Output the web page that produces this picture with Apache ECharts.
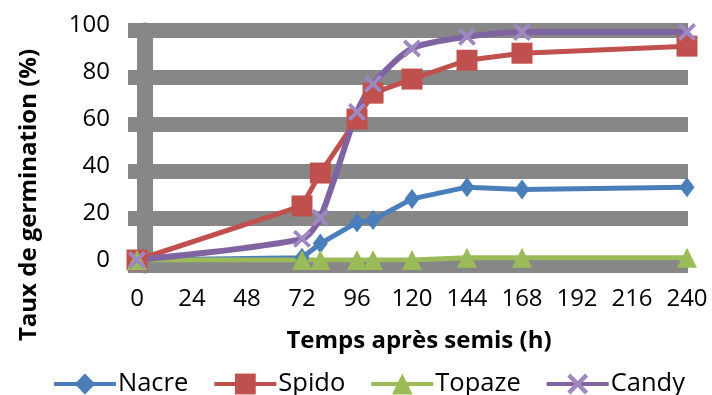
<!DOCTYPE html>
<html><head><meta charset="utf-8">
<script src="https://cdn.jsdelivr.net/npm/echarts@6/dist/echarts.min.js"></script>
<style>html,body{margin:0;padding:0;background:#fff}#c{width:712px;height:395px}</style>
</head><body><div id="c"></div>
<script>
const times = [0, 72, 80, 96, 103, 120, 144, 168, 240];
const nacre = [0, 1, 7, 16, 17, 26, 31, 30, 31];
const spido = [0, 23, 37, 60, 71, 77, 85, 88, 91];
const topaze = [0, 0, 0, 0, 0, 0, 1, 1, 1];
const candy = [0, 9, 18, 63, 75, 90, 95, 97, 97];
const seriesNames = ['Nacre', 'Spido', 'Topaze', 'Candy'];
const xTicks = [0, 24, 48, 72, 96, 120, 144, 168, 192, 216, 240];
const yTicks = [0, 20, 40, 60, 80, 100];
const xTitle = 'Temps après semis (h)';
const yTitle = 'Taux de germination (%)';

const FONT = '"Open Sans", sans-serif';
const pts = arr => times.map((t, i) => [t, arr[i]]);
const xPath = 'path://M0,3 L3,0 L10,7 L17,0 L20,3 L13,10 L20,17 L17,20 L10,13 L3,20 L0,17 L7,10 Z';

const chart = echarts.init(document.getElementById('c'), null, {renderer: 'canvas'});
chart.setOption({
  animation: false,
  backgroundColor: '#fff',
  grid: [
    {left: 137, top: 25, width: 550, height: 235},
    {left: 128, top: 30.5, width: 560, height: 235}
  ],
  xAxis: [
    {gridIndex: 0, type: 'value', min: xTicks[0], max: xTicks[xTicks.length - 1], interval: 24,
     axisLine: {show: false}, axisTick: {show: false}, splitLine: {show: false},
     axisLabel: {fontFamily: FONT, fontSize: 24, color: '#000', margin: 27},
     name: xTitle, nameLocation: 'middle', nameGap: 69,
     nameTextStyle: {fontFamily: FONT, fontSize: 24, fontWeight: 'bold', color: '#000', padding: [0, 0, 0, 14]}},
    {gridIndex: 1, type: 'value', min: 0, max: 1, show: false}
  ],
  yAxis: [
    {gridIndex: 0, type: 'value', min: yTicks[0], max: yTicks[yTicks.length - 1], interval: 20,
     axisLine: {show: false}, axisTick: {show: false}, splitLine: {show: false},
     axisLabel: {fontFamily: FONT, fontSize: 24, color: '#000', margin: 27}},
    {gridIndex: 1, type: 'value', min: 0, max: 100, interval: 20, offset: -17,
     axisLabel: {show: false}, axisTick: {show: false},
     axisLine: {show: true, lineStyle: {color: '#878787', width: 16}},
     splitLine: {show: true, lineStyle: {color: '#878787', width: 15}}}
  ],
  legend: {
    left: 47, top: 366, itemWidth: 62, itemHeight: 26, itemGap: 24,
    lineStyle: {width: 4},
    textStyle: {fontFamily: FONT, fontSize: 25.5, color: '#000', padding: [0, 0, 0, -3]},
    data: seriesNames
  },
  graphic: [{
    type: 'text', rotation: Math.PI / 2,
    x: 29, y: 195,
    style: {text: yTitle, font: 'bold 24px ' + FONT, fill: '#000', textAlign: 'center', textVerticalAlign: 'middle'}
  }],
  series: [
    {name: seriesNames[0], type: 'line', data: pts(nacre), symbol: 'diamond', symbolSize: [15, 20],
     itemStyle: {color: '#4A7EBB'}, lineStyle: {color: '#4A7EBB', width: 5}},
    {name: seriesNames[1], type: 'line', data: pts(spido), symbol: 'rect', symbolSize: 21,
     itemStyle: {color: '#C0504D'}, lineStyle: {color: '#C0504D', width: 5}},
    {name: seriesNames[2], type: 'line', data: pts(topaze), symbol: 'triangle', symbolSize: [20, 20],
     itemStyle: {color: '#9BBB59'}, lineStyle: {color: '#9BBB59', width: 5}},
    {name: seriesNames[3], type: 'line', data: pts(candy), symbol: xPath, symbolSize: 18, smooth: 0.25,
     itemStyle: {color: '#9F88C2'}, lineStyle: {color: '#8064A2', width: 6}}
  ]
});
</script></body></html>
